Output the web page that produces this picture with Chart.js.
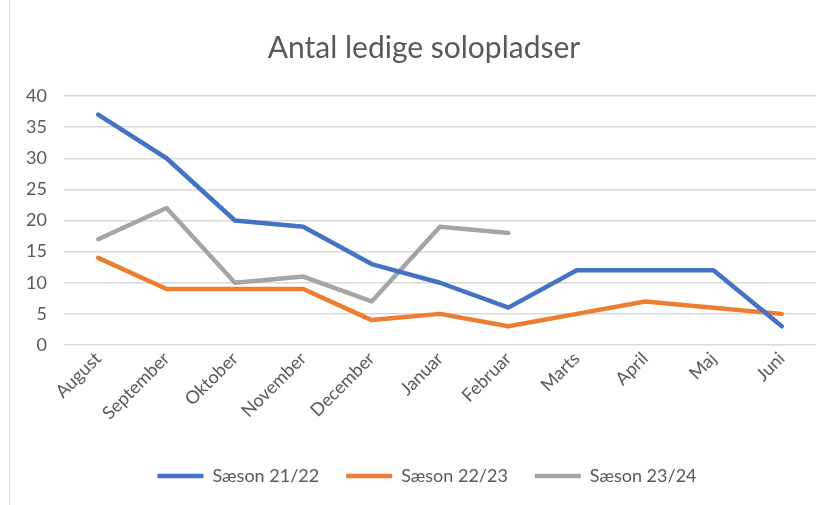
<!DOCTYPE html>
<html>
<head>
<meta charset="utf-8">
<script src="https://cdn.jsdelivr.net/npm/chart.js"></script>
<style>
  html, body { margin: 0; padding: 0; background: #fff; }
  #wrap { position: relative; width: 834px; height: 505px; }
  #frame { position: absolute; left: 9px; top: 0; width: 1px; height: 505px; background: #d9d9d9; }
</style>
</head>
<body>
<div id="wrap">
  <canvas id="chart" width="834" height="505"></canvas>
  <div id="frame"></div>
</div>
<script>
const months = ['August', 'September', 'Oktober', 'November', 'December', 'Januar', 'Februar', 'Marts', 'April', 'Maj', 'Juni'];
const season2122 = [37, 30, 20, 19, 13, 10, 6, 12, 12, 12, 3];
const season2223 = [14, 9, 9, 9, 4, 5, 3, 5, 7, 6, 5];
const season2324 = [17, 22, 10, 11, 7, 19, 18, null, null, null, null];
const seriesNames = ['Sæson 21/22', 'Sæson 22/23', 'Sæson 23/24'];

const textColor = '#595959';
const fontFamily = 'Lato, "Open Sans", sans-serif';

function line(label, data, color) {
  return {
    label,
    data,
    borderColor: color,
    backgroundColor: color,
    borderWidth: 4.5,
    borderCapStyle: 'round',
    borderJoinStyle: 'round',
    pointRadius: 0,
    tension: 0,
    spanGaps: false
  };
}

// nudge legend and title a bit right, like the original
const boxShift = {
  id: 'boxShift',
  afterLayout(chart) {
    chart.legend.left += 14;
    chart.legend.right += 14;
    chart.titleBlock.left += 11;
    chart.titleBlock.right += 11;
  }
};

new Chart(document.getElementById('chart'), {
  type: 'line',
  data: {
    labels: months,
    datasets: [
      line(seriesNames[0], season2122, '#4472C4'),
      line(seriesNames[1], season2223, '#ED7D31'),
      line(seriesNames[2], season2324, '#A5A5A5')
    ]
  },
  plugins: [boxShift],
  options: {
    responsive: false,
    animation: false,
    layout: { padding: { left: 10, right: 18, top: 0, bottom: 10 } },
    plugins: {
      title: {
        display: true,
        text: 'Antal ledige solopladser',
        color: textColor,
        font: { family: fontFamily, size: 30, weight: 'normal' },
        padding: { top: 30, bottom: 30 }
      },
      legend: {
        position: 'bottom',
        labels: {
          color: textColor,
          font: { family: fontFamily, size: 18 },
          usePointStyle: true,
          pointStyle: 'line',
          pointStyleWidth: 46,
          boxHeight: 18,
          padding: 27
        }
      },
      tooltip: { enabled: false }
    },
    scales: {
      x: {
        offset: true,
        grid: { display: false, drawTicks: false },
        border: { display: false },
        ticks: {
          color: textColor,
          font: { family: fontFamily, size: 18 },
          minRotation: 45,
          maxRotation: 45,
          padding: 3,
          autoSkip: false
        },
        afterFit: s => { s.height = 95; }
      },
      y: {
        min: 0,
        max: 40,
        grid: { color: '#d9d9d9', lineWidth: 1.5, drawTicks: false },
        border: { display: false },
        ticks: {
          stepSize: 5,
          color: textColor,
          font: { family: fontFamily, size: 18 },
          padding: 17
        },
        afterFit: s => { s.width = 54; }
      }
    }
  }
});
</script>
</body>
</html>
